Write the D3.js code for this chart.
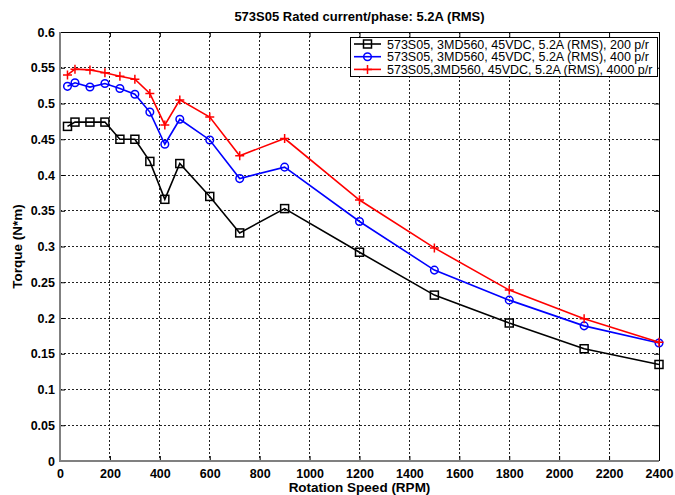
<!DOCTYPE html>
<html><head><meta charset="utf-8">
<script src="https://cdn.jsdelivr.net/npm/d3@7"></script>
<style>
html,body{margin:0;padding:0;background:#fff;}
svg{display:block;font-family:"Liberation Sans",Arial,sans-serif;}
</style></head>
<body><svg id="chart" width="675" height="495"></svg>
<script>
const speeds = [30, 60, 120, 180, 240, 300, 360, 420, 480, 600, 720, 900, 1200, 1500, 1800, 2100, 2400];
const torque200 = [0.468, 0.474, 0.474, 0.474, 0.450, 0.450, 0.419, 0.366, 0.416, 0.370, 0.319, 0.353, 0.292, 0.232, 0.193, 0.157, 0.135];
const torque400 = [0.524, 0.529, 0.523, 0.528, 0.521, 0.513, 0.488, 0.443, 0.478, 0.449, 0.395, 0.411, 0.335, 0.267, 0.225, 0.189, 0.165];
const torque4000 = [0.540, 0.548, 0.547, 0.543, 0.538, 0.534, 0.514, 0.470, 0.505, 0.481, 0.427, 0.451, 0.365, 0.298, 0.239, 0.199, 0.166];
const seriesNames = [
  "573S05, 3MD560, 45VDC, 5.2A (RMS), 200 p/r",
  "573S05, 3MD560, 45VDC, 5.2A (RMS), 400 p/r",
  "573S05,3MD560, 45VDC, 5.2A (RMS), 4000 p/r"
];
const seriesColors = ["#000000", "#0000ff", "#ff0000"];
const seriesMarkers = ["square", "circle", "plus"];
const xTicks = [0, 200, 400, 600, 800, 1000, 1200, 1400, 1600, 1800, 2000, 2200, 2400];
const yTicks = [0, 0.05, 0.1, 0.15, 0.2, 0.25, 0.3, 0.35, 0.4, 0.45, 0.5, 0.55, 0.6];
const yTickLabels = ["0", "0.05", "0.1", "0.15", "0.2", "0.25", "0.3", "0.35", "0.4", "0.45", "0.5", "0.55", "0.6"];
const titleText = "573S05 Rated current/phase: 5.2A (RMS)";
const xLabel = "Rotation Speed (RPM)";
const yLabel = "Torque (N*m)";

const allSeries = [torque200, torque400, torque4000];
const L = 60, R = 659, T = 32, B = 461;
const svg = d3.select("#chart");
const x = d3.scaleLinear().domain([0, 2400]).range([L, R]);
const y = d3.scaleLinear().domain([0, 0.6]).range([B, T]);

// grid
const g = svg.append("g");
g.selectAll("line.vg").data(xTicks.slice(1, -1)).enter().append("line")
  .attr("x1", d => x(d)).attr("x2", d => x(d)).attr("y1", T).attr("y2", B)
  .attr("stroke", "#222").attr("stroke-width", 1).attr("stroke-dasharray", "2,2").attr("shape-rendering", "crispEdges");
g.selectAll("line.hg").data(yTicks.slice(1, -1)).enter().append("line")
  .attr("x1", L).attr("x2", R).attr("y1", d => y(d)).attr("y2", d => y(d))
  .attr("stroke", "#222").attr("stroke-width", 1).attr("stroke-dasharray", "2,2").attr("shape-rendering", "crispEdges");

// box (top/right)
svg.append("line").attr("x1", L).attr("x2", R).attr("y1", T).attr("y2", T).attr("stroke", "#000").attr("shape-rendering", "crispEdges");
svg.append("line").attr("x1", R).attr("x2", R).attr("y1", T).attr("y2", B).attr("stroke", "#000").attr("shape-rendering", "crispEdges");

// axes
const fmtY = (d, i) => yTickLabels[i];
const xAxis = svg.append("g").attr("transform", `translate(0,${B})`)
  .call(d3.axisBottom(x).tickValues(xTicks).tickSize(-5).tickPadding(8).tickFormat(d3.format("d")));
const yAxis = svg.append("g").attr("transform", `translate(${L},0)`)
  .call(d3.axisLeft(y).tickValues(yTicks).tickSize(-5).tickPadding(5).tickFormat(fmtY));
const xAxisTop = svg.append("g").attr("transform", `translate(0,${T})`)
  .call(d3.axisTop(x).tickValues(xTicks).tickSize(-5).tickFormat(""));
const yAxisRight = svg.append("g").attr("transform", `translate(${R},0)`)
  .call(d3.axisRight(y).tickValues(yTicks).tickSize(-5).tickFormat(""));
[xAxis, yAxis, xAxisTop, yAxisRight].forEach(a => {
  a.select(".domain").remove();
  a.selectAll("line").attr("stroke", "#000");
  a.selectAll("text").attr("font-family", "Liberation Sans, Arial, sans-serif")
    .attr("font-size", 12.5).attr("font-weight", "bold").attr("fill", "#000");
});
svg.append("line").attr("x1", L).attr("x2", L).attr("y1", T).attr("y2", B + 1).attr("stroke", "#808080").attr("stroke-width", 2);
svg.append("line").attr("x1", L - 1).attr("x2", R).attr("y1", B).attr("y2", B).attr("stroke", "#808080").attr("stroke-width", 2);

// lines + markers
const line = d3.line().x((d, i) => x(speeds[i])).y(d => y(d));
function drawMarker(sel, type, color, cx, cy) {
  if (type === "square") {
    sel.append("rect").attr("x", cx - 4).attr("y", cy - 4).attr("width", 8).attr("height", 8)
      .attr("fill", "none").attr("stroke", color).attr("stroke-width", 1.5);
  } else if (type === "circle") {
    sel.append("circle").attr("cx", cx).attr("cy", cy).attr("r", 3.8)
      .attr("fill", "none").attr("stroke", color).attr("stroke-width", 1.5);
  } else {
    sel.append("path").attr("d", `M${cx - 4.5},${cy}H${cx + 4.5}M${cx},${cy - 4.5}V${cy + 4.5}`)
      .attr("stroke", color).attr("stroke-width", 1.5);
  }
}
allSeries.forEach((vals, si) => {
  svg.append("path").datum(vals).attr("d", line).attr("fill", "none")
    .attr("stroke", seriesColors[si]).attr("stroke-width", 1.6);
  const mg = svg.append("g");
  vals.forEach((v, i) => drawMarker(mg, seriesMarkers[si], seriesColors[si], x(speeds[i]), y(v)));
});

// legend
const lg = svg.append("g");
lg.append("rect").attr("x", 350.5).attr("y", 37.5).attr("width", 307).attr("height", 39)
  .attr("fill", "#fff").attr("stroke", "#000").attr("stroke-width", 1);
seriesNames.forEach((name, i) => {
  const yy = 44 + i * 12.7;
  lg.append("line").attr("x1", 354).attr("x2", 381).attr("y1", yy).attr("y2", yy)
    .attr("stroke", seriesColors[i]).attr("stroke-width", 1.6);
  drawMarker(lg, seriesMarkers[i], seriesColors[i], 367.5, yy);
  lg.append("text").attr("x", 387).attr("y", yy + 4.5).text(name)
    .attr("font-size", 12.5).attr("fill", "#000");
});

// titles
svg.append("text").attr("x", (L + R) / 2).attr("y", 21).attr("text-anchor", "middle")
  .attr("font-size", 13).attr("font-weight", "bold").text(titleText);
svg.append("text").attr("x", (L + R) / 2).attr("y", 492).attr("text-anchor", "middle")
  .attr("font-size", 13.5).attr("font-weight", "bold").text(xLabel);
svg.append("text").attr("transform", `translate(22,${(T + B) / 2}) rotate(-90)`).attr("text-anchor", "middle")
  .attr("font-size", 13.5).attr("font-weight", "bold").text(yLabel);
</script></body></html>
